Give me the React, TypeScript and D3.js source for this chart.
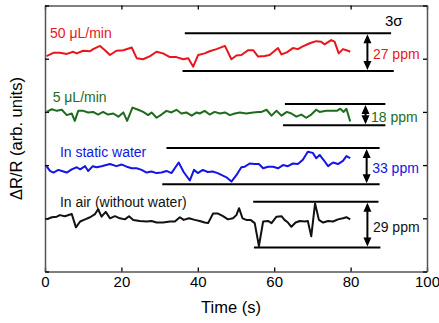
import { useEffect, useRef } from "react";
import * as d3 from "d3";

// time (s) and signal (arb. units) for each trace
const redTime = [0.4, 2.2, 3.9, 5.7, 7.4, 8.3, 10.0, 11.8, 12.6, 14.4, 15.7, 17.0, 18.7, 20.5, 22.7, 24.0, 25.7, 27.5, 29.2, 30.9, 32.7, 34.4, 36.2, 37.5, 38.8, 40.1, 41.8, 43.1, 44.9, 47.1, 48.8, 50.1, 51.4, 53.2, 54.5, 55.8, 57.5, 58.8, 61.0, 61.9, 63.3, 64.9, 66.2, 67.5, 69.3, 71.0, 72.3, 73.2, 74.9, 75.8, 76.9, 78.0, 78.9, 79.9];
const redValue = [40.5, 41.1, 41.1, 40.9, 41.3, 41.0, 41.5, 41.4, 41.8, 42.4, 41.6, 40.7, 41.5, 41.6, 42.1, 40.1, 39.9, 40.5, 41.3, 41.0, 40.3, 40.3, 39.9, 40.1, 38.5, 40.7, 41.0, 41.4, 41.8, 42.4, 39.9, 40.6, 40.7, 41.6, 41.6, 40.4, 40.5, 40.7, 42.0, 40.8, 41.2, 42.0, 41.8, 42.3, 42.9, 43.3, 43.2, 42.7, 43.5, 43.2, 41.0, 41.8, 41.6, 41.3];

const greenTime = [0.4, 1.8, 3.1, 4.4, 5.7, 7.0, 7.8, 8.7, 10.0, 11.3, 12.6, 13.9, 15.2, 16.5, 17.9, 19.2, 20.5, 21.5, 22.9, 24.4, 25.7, 27.0, 27.9, 29.2, 30.5, 31.8, 33.1, 34.4, 35.7, 37.0, 38.4, 39.7, 40.5, 41.8, 43.1, 44.4, 45.8, 47.1, 48.4, 49.7, 51.0, 52.7, 54.5, 55.8, 56.7, 58.0, 59.3, 60.6, 61.9, 63.3, 64.5, 65.8, 67.1, 68.4, 69.7, 71.0, 71.9, 73.6, 75.4, 76.4, 77.3, 78.2, 78.9, 79.9];
const greenValue = [30.0, 30.5, 30.2, 30.4, 29.4, 29.7, 28.3, 30.2, 30.2, 29.9, 30.0, 29.5, 30.0, 29.5, 29.7, 29.1, 29.9, 28.3, 30.8, 30.4, 30.0, 29.4, 29.9, 28.9, 29.5, 30.2, 29.9, 30.4, 29.7, 29.9, 29.3, 29.9, 29.7, 30.2, 29.5, 30.0, 29.7, 29.9, 29.4, 29.7, 29.9, 29.7, 29.9, 30.0, 30.0, 30.4, 29.3, 30.2, 29.3, 30.0, 29.7, 29.1, 29.5, 28.9, 29.5, 30.4, 30.0, 30.2, 30.2, 30.2, 30.6, 30.0, 30.6, 28.2];

const blueTime = [0.4, 1.3, 2.2, 3.5, 4.4, 5.7, 7.0, 8.3, 9.2, 10.5, 11.3, 12.5, 13.5, 14.8, 17.0, 18.7, 20.1, 21.4, 22.7, 24.0, 25.3, 26.6, 27.9, 29.2, 30.5, 31.8, 33.1, 35.0, 36.3, 37.9, 39.0, 40.0, 41.3, 42.6, 43.9, 45.2, 46.3, 47.5, 48.8, 50.1, 51.4, 52.3, 53.6, 54.9, 56.0, 57.1, 58.4, 59.7, 61.0, 62.3, 63.6, 64.9, 66.2, 67.5, 68.8, 70.1, 71.0, 71.9, 72.9, 74.1, 75.4, 76.7, 78.0, 78.9, 79.9];
const blueValue = [19.8, 18.9, 18.6, 19.1, 18.9, 18.6, 19.2, 19.6, 19.2, 19.8, 18.9, 19.8, 19.6, 19.8, 20.2, 19.8, 20.1, 19.7, 19.4, 19.4, 19.1, 18.6, 18.8, 18.5, 18.6, 18.9, 18.5, 20.5, 18.7, 17.1, 19.1, 18.5, 19.1, 18.7, 18.8, 18.5, 18.1, 17.7, 16.9, 18.1, 19.6, 19.7, 20.3, 20.2, 20.2, 19.4, 19.7, 19.7, 19.4, 20.0, 19.8, 20.3, 20.2, 21.0, 22.5, 22.3, 21.3, 21.9, 21.0, 19.8, 20.5, 20.2, 20.8, 21.7, 21.3];

const blackTime = [0.4, 1.8, 3.1, 3.9, 5.2, 7.0, 8.1, 9.2, 10.5, 11.8, 13.1, 13.9, 14.8, 15.9, 17.0, 18.3, 19.6, 20.9, 22.0, 23.1, 24.8, 26.6, 27.9, 29.2, 30.9, 32.7, 34.0, 35.3, 36.3, 37.7, 39.2, 40.5, 41.8, 42.7, 44.0, 45.3, 46.6, 47.9, 49.2, 50.1, 50.8, 51.7, 52.7, 53.8, 54.9, 56.0, 57.1, 58.4, 59.3, 60.6, 61.9, 62.7, 63.6, 64.5, 65.6, 66.7, 68.0, 68.8, 69.7, 70.7, 71.7, 72.8, 74.1, 75.4, 76.7, 78.0, 78.9, 79.9];
const blackValue = [9.8, 10.2, 10.3, 10.6, 10.4, 10.8, 8.3, 9.4, 9.8, 10.2, 10.8, 11.7, 10.3, 11.2, 10.0, 10.4, 10.0, 9.8, 10.4, 9.7, 9.5, 9.4, 9.5, 9.2, 9.2, 9.4, 9.4, 10.2, 9.7, 10.0, 9.7, 9.5, 9.2, 9.1, 10.9, 10.9, 10.4, 9.8, 10.0, 10.6, 11.9, 10.0, 9.7, 9.7, 9.1, 4.8, 9.4, 9.5, 9.1, 10.3, 10.4, 9.7, 9.2, 8.4, 9.2, 9.5, 9.4, 9.5, 6.6, 12.8, 9.7, 9.2, 9.5, 9.4, 9.8, 10.0, 10.2, 9.8];

const seriesNames = ["50 \u03bcL/min", "5 \u03bcL/min", "In static water", "In air (without water)"];
const seriesColors = ["#e8161b", "#1d6b1d", "#1414e6", "#111111"];

// 3-sigma bands
const bandLabels = ["27 ppm", "18 ppm", "33 ppm", "29 ppm"];
const bandTop = [44.8, 31.5, 23.2, 13.1];
const bandBottom = [37.7, 27.5, 16.4, 4.5];
const bandTopStart = [36.6, 62.8, 31.8, 54.5];
const bandTopEnd = [90.6, 89.1, 87.6, 87.3];
const bandBottomStart = [36.0, 62.3, 30.7, 54.7];
const bandBottomEnd = [91.3, 89.1, 87.6, 87.8];
const arrowTime = [84.4, 83.9, 84.2, 84.4];

const xTicks = [0, 20, 40, 60, 80, 100];
const yTicks = [0, 10, 20, 30, 40, 50];

// label anchors (time, value)
const labelTime = [1.3, 2.0, 3.9, 3.9];
const labelValue = [43.9, 31.9, 21.6, 12.2];

const width = 439;
const height = 323;
const margin = { top: 5.5, right: 12, bottom: 51.5, left: 45 };
const font = "'Liberation Sans', Arial, Helvetica, sans-serif";

const App = () => {
  const svgRef = useRef<SVGSVGElement>(null);

  useEffect(() => {
    const svg = d3.select(svgRef.current);
    svg.selectAll("*").remove();

    const x = d3.scaleLinear().domain([0, 100]).range([margin.left, width - margin.right]);
    const y = d3.scaleLinear().domain([0, 50]).range([height - margin.bottom, margin.top]);

    const series = [
      { t: redTime, v: redValue },
      { t: greenTime, v: greenValue },
      { t: blueTime, v: blueValue },
      { t: blackTime, v: blackValue },
    ];

    const line = d3.line<[number, number]>().x(d => x(d[0])).y(d => y(d[1]));

    // frame + axes
    const axisColor = "#555";
    const bottom = svg.append("g")
      .attr("transform", `translate(0,${y(0)})`)
      .call(d3.axisBottom(x).tickValues(xTicks).tickSizeInner(-4).tickSizeOuter(0).tickPadding(5));
    const top = svg.append("g")
      .attr("transform", `translate(0,${y(50)})`)
      .call(d3.axisTop(x).tickValues(xTicks).tickSizeInner(-4).tickSizeOuter(0).tickFormat(() => ""));
    const left = svg.append("g")
      .attr("transform", `translate(${x(0)},0)`)
      .call(d3.axisLeft(y).tickValues(yTicks).tickSizeInner(-4).tickSizeOuter(0).tickFormat(() => ""));
    const right = svg.append("g")
      .attr("transform", `translate(${x(100)},0)`)
      .call(d3.axisRight(y).tickValues(yTicks).tickSizeInner(-4).tickSizeOuter(0).tickFormat(() => ""));

    [bottom, top, left, right].forEach(g => {
      g.select(".domain").attr("stroke", axisColor).attr("stroke-width", 1.5);
      g.selectAll(".tick line").attr("stroke", "#000").attr("stroke-width", 1.3);
    });
    bottom.selectAll("text")
      .attr("font-family", font)
      .attr("font-size", 15)
      .attr("fill", "#000");

    svg.append("text")
      .attr("x", 231)
      .attr("y", 313)
      .attr("text-anchor", "middle")
      .attr("font-family", font)
      .attr("font-size", 16.5)
      .text("Time (s)");

    svg.append("text")
      .attr("transform", `translate(22,${(y(0) + y(50)) / 2}) rotate(-90)`)
      .attr("text-anchor", "middle")
      .attr("font-family", font)
      .attr("font-size", 16.5)
      .text("\u0394R/R (arb. units)");

    // traces
    series.forEach((s, i) => {
      const pts = s.t.map((t, j) => [t, s.v[j]] as [number, number]);
      svg.append("path")
        .attr("d", line(pts))
        .attr("fill", "none")
        .attr("stroke", seriesColors[i])
        .attr("stroke-width", 2)
        .attr("stroke-linejoin", "round");

      svg.append("text")
        .attr("x", x(labelTime[i]))
        .attr("y", y(labelValue[i]))
        .attr("font-family", font)
        .attr("font-size", 14)
        .attr("fill", seriesColors[i])
        .text(seriesNames[i]);
    });

    // 3 sigma bands
    bandLabels.forEach((lab, i) => {
      svg.append("line")
        .attr("x1", x(bandTopStart[i])).attr("x2", x(bandTopEnd[i]))
        .attr("y1", y(bandTop[i])).attr("y2", y(bandTop[i]))
        .attr("stroke", "#000").attr("stroke-width", 2);
      svg.append("line")
        .attr("x1", x(bandBottomStart[i])).attr("x2", x(bandBottomEnd[i]))
        .attr("y1", y(bandBottom[i])).attr("y2", y(bandBottom[i]))
        .attr("stroke", "#000").attr("stroke-width", 2);

      const ax = x(arrowTime[i]);
      const y1 = y(bandTop[i]) + 1;
      const y2 = y(bandBottom[i]) - 1;
      const hl = 9, hw = 4;
      svg.append("line")
        .attr("x1", ax).attr("x2", ax)
        .attr("y1", y1 + 3).attr("y2", y2 - 3)
        .attr("stroke", "#000").attr("stroke-width", 2);
      svg.append("path")
        .attr("d", `M${ax},${y1} L${ax - hw},${y1 + hl} L${ax + hw},${y1 + hl} Z M${ax},${y2} L${ax - hw},${y2 - hl} L${ax + hw},${y2 - hl} Z`)
        .attr("fill", "#000");

      svg.append("text")
        .attr("x", ax + 5.5)
        .attr("y", (y(bandTop[i]) + y(bandBottom[i])) / 2 + 2)
        .attr("dominant-baseline", "central")
        .attr("font-family", font)
        .attr("font-size", 14)
        .attr("fill", seriesColors[i])
        .text(lab);
    });

    svg.append("text")
      .attr("x", 385)
      .attr("y", 26)
      .attr("font-family", font)
      .attr("font-size", 15)
      .text("3\u03c3");
  }, []);

  return (
    <svg
      ref={svgRef}
      width={width}
      height={height}
      style={{ position: "absolute", left: 0, top: 0, background: "#fff" }}
    />
  );
};

export default App;
